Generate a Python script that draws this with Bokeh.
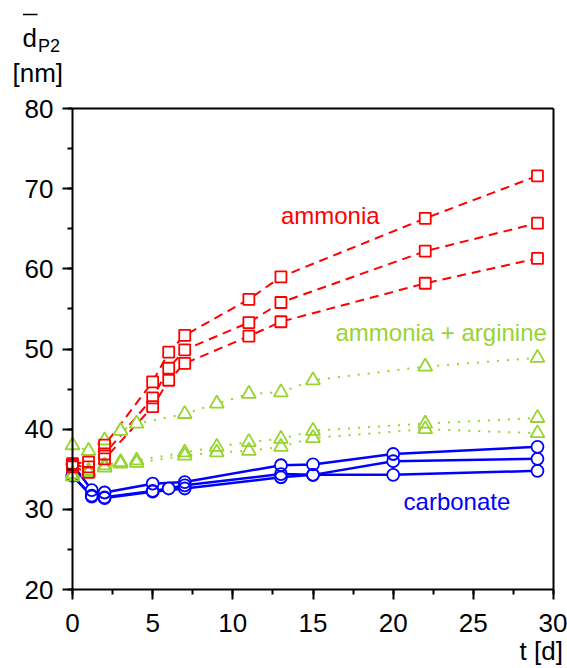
from bokeh.plotting import figure
from bokeh.models import Range1d, SingleIntervalTicker, FixedTicker, LinearAxis
from bokeh.core.properties import value
from bokeh.embed import file_html
from bokeh.resources import INLINE

# ---- data: mean particle size d_P2 [nm] versus storage time t [d] ----
t_ammonia = [0, 1, 2, 5, 6, 7, 11, 13, 22, 29]
ammonia_1 = [35.7, 35.9, 38.0, 45.9, 49.6, 51.7, 56.2, 59.0, 66.3, 71.6]
ammonia_2 = [35.5, 35.3, 36.9, 43.9, 47.6, 49.9, 53.3, 55.8, 62.2, 65.7]
ammonia_3 = [35.3, 34.6, 36.3, 42.8, 46.1, 48.2, 51.6, 53.4, 58.2, 61.3]

t_arginine = [0, 1, 2, 3, 4, 7, 9, 11, 13, 15, 22, 29]
arginine_1 = [38.0, 37.3, 38.6, 39.8, 40.7, 41.9, 43.2, 44.4, 44.6, 46.1, 47.8, 48.9]
arginine_2 = [34.4, 34.8, 35.5, 35.9, 36.1, 37.1, 37.8, 38.4, 38.8, 39.8, 40.7, 41.4]
arginine_3 = [34.1, 34.6, 35.2, 35.7, 35.8, 36.7, 37.1, 37.3, 37.8, 38.9, 40.0, 39.5]

t_carbonate_1 = [0, 1.2, 2, 5, 7, 13, 15, 20, 29]
carbonate_1 = [35.6, 32.4, 32.1, 33.2, 33.4, 35.5, 35.6, 36.9, 37.8]
t_carbonate_2 = [0, 1.2, 2, 5, 6, 7, 13, 15, 20, 29]
carbonate_2 = [34.2, 31.7, 31.5, 32.3, 32.6, 33.0, 34.4, 34.3, 36.0, 36.3]
t_carbonate_3 = [0, 1.2, 2, 5, 7, 13, 15, 20, 29]
carbonate_3 = [34.2, 31.6, 31.4, 32.2, 32.6, 34.0, 34.3, 34.3, 34.8]

group_names = ["ammonia", "ammonia + arginine", "carbonate"]
y_title = ["d", "P2", "[nm]"]
x_title = ["t [d]"]

T_MIN, T_MAX = 0, 30
D_MIN, D_MAX = 20, 80

# ---- styling / geometry ----
FONT = "Liberation Sans"
RED = "#FF0000"
GREEN = "#98D431"
BLUE = "#0000FF"
W, H = 567, 668
BOX_L, BOX_R, BOX_T, BOX_B = 72, 553, 108, 589   # axis box in pixels

px_per_t = (BOX_R - BOX_L) / (T_MAX - T_MIN)
px_per_d = (BOX_B - BOX_T) / (D_MAX - D_MIN)


def tx(px):
    """horizontal pixel position -> t value"""
    return T_MIN + (px - BOX_L) / px_per_t


def dy(py):
    """vertical pixel position (from top) -> d value"""
    return D_MAX + (BOX_T - py) / px_per_d


# The frame fills the whole canvas; axes are pinned at fixed locations so
# that titles outside the axis box can be drawn as ordinary text.
p = figure(
    width=W, height=H,
    x_range=Range1d(tx(0), tx(W)), y_range=Range1d(dy(H), dy(0)),
    output_backend="svg", toolbar_location=None, min_border=0,
)
p.grid.visible = False
p.outline_line_color = None
p.background_fill_color = "white"
p.border_fill_color = "white"

p.xaxis.fixed_location = D_MIN
p.yaxis.fixed_location = T_MIN
p.xaxis.bounds = (T_MIN, T_MAX)
p.yaxis.bounds = (D_MIN, D_MAX)
p.xaxis.ticker = SingleIntervalTicker(interval=5, num_minor_ticks=2)
p.yaxis.ticker = SingleIntervalTicker(interval=10, num_minor_ticks=2)
for ax in (p.xaxis, p.yaxis):
    ax.axis_line_width = 2
    ax.axis_line_color = "black"
    ax.major_tick_line_width = 2
    ax.minor_tick_line_width = 2
    ax.major_tick_in = 0
    ax.major_tick_out = 10
    ax.minor_tick_in = 0
    ax.minor_tick_out = 5
    ax.major_label_text_font = FONT
    ax.major_label_text_font_size = "26px"
    ax.major_label_text_color = "black"
p.xaxis.major_label_standoff = 14
p.yaxis.major_label_standoff = 9

# closing lines of the axis box (no ticks)
box_top = LinearAxis(fixed_location=D_MAX, bounds=(T_MIN, T_MAX),
                     ticker=FixedTicker(ticks=[]), axis_line_width=2)
box_right = LinearAxis(fixed_location=T_MAX, bounds=(D_MIN, D_MAX),
                       ticker=FixedTicker(ticks=[]), axis_line_width=2)
p.add_layout(box_top, "above")
p.add_layout(box_right, "right")

red_style = dict(line_dash="9 6", line_width=2)
green_style = dict(line_dash="2 8", line_width=2)
blue_style = dict(line_width=2.5)
series = [
    (t_carbonate_1, carbonate_1, BLUE, "circle", 12, blue_style),
    (t_carbonate_2, carbonate_2, BLUE, "circle", 12, blue_style),
    (t_carbonate_3, carbonate_3, BLUE, "circle", 12, blue_style),
    (t_arginine, arginine_1, GREEN, "triangle", 14, green_style),
    (t_arginine, arginine_2, GREEN, "triangle", 14, green_style),
    (t_arginine, arginine_3, GREEN, "triangle", 14, green_style),
    (t_ammonia, ammonia_1, RED, "square", 11, red_style),
    (t_ammonia, ammonia_2, RED, "square", 11, red_style),
    (t_ammonia, ammonia_3, RED, "square", 11, red_style),
]

# connecting lines
for t, d, color, marker, size, style in series:
    p.line(t, d, line_color=color, **style)

# white marker interiors hide the lines inside the symbols
for t, d, color, marker, size, style in series:
    p.scatter(t, d, marker=marker, size=size, fill_color="white",
              line_color=None)

# open marker outlines on top, so overlapping symbols stay visible
for t, d, color, marker, size, style in series:
    p.scatter(t, d, marker=marker, size=size, fill_color=None,
              line_color=color, line_width=1.8)

# group names inside the plot
name_x = [13.0, 16.4, 20.65]
name_y = [66.6, 52.0, 31.0]
p.text(x=name_x, y=name_y, text=group_names,
       text_color=[RED, GREEN, BLUE],
       text_font=value(FONT), text_font_size="24px",
       text_align="left", text_baseline="middle")

# y-axis title: d with overbar, subscript P2, unit below
p.text(x=[tx(22), tx(37.5)], y=[dy(37), dy(45)], text=y_title[:2],
       text_font=value(FONT), text_font_size=["26px", "18px"],
       text_color="black", text_align="left", text_baseline="alphabetic")
p.segment(x0=[tx(22.5)], y0=[dy(14)], x1=[tx(37)], y1=[dy(14)],
          line_color="black", line_width=1.6)
p.text(x=[tx(12)], y=[dy(72)], text=y_title[2:],
       text_font=value(FONT), text_font_size="26px",
       text_color="black", text_align="left", text_baseline="middle")

# x-axis title
p.text(x=[tx(519)], y=[dy(650)], text=x_title,
       text_font=value(FONT), text_font_size="26px",
       text_color="black", text_align="left", text_baseline="middle")

open("out.html", "w").write(file_html(p, INLINE))
